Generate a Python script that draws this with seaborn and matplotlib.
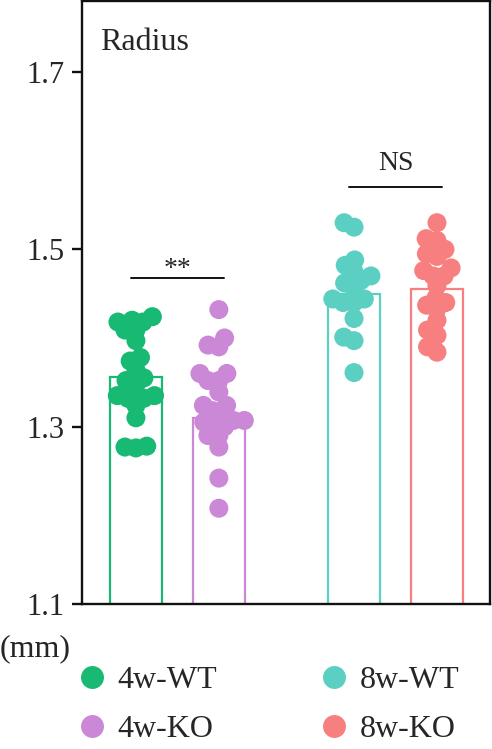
import matplotlib
matplotlib.use("Agg")
import matplotlib.pyplot as plt
import pandas as pd
import seaborn as sns
from matplotlib.lines import Line2D

groups = ["4w-WT", "4w-KO", "8w-WT", "8w-KO"]
colors = ["#18b973", "#cb88d7", "#5ccfc3", "#f77f7f"]

wt4 = [1.420, 1.418, 1.409, 1.397, 1.409, 1.418, 1.424, 1.378, 1.374, 1.364, 1.355,
       1.352, 1.347, 1.335, 1.335, 1.332, 1.332, 1.324, 1.310, 1.278, 1.276, 1.277]
ko4 = [1.432, 1.400, 1.390, 1.392, 1.360, 1.360, 1.352, 1.352, 1.339, 1.324, 1.324,
       1.318, 1.307, 1.307, 1.305, 1.305, 1.313, 1.300, 1.290, 1.290, 1.277, 1.242, 1.208]
wt8 = [1.525, 1.530, 1.482, 1.488, 1.470, 1.475, 1.462, 1.465, 1.456, 1.444, 1.444,
       1.440, 1.440, 1.422, 1.397, 1.401, 1.361]
ko8 = [1.530, 1.510, 1.512, 1.500, 1.492, 1.495, 1.476, 1.479, 1.470, 1.470, 1.459,
       1.440, 1.445, 1.433, 1.437, 1.420, 1.409, 1.403, 1.384, 1.390]
bar_means = [1.356, 1.310, 1.450, 1.455]

sig_labels = ["**", "NS"]
sig_heights = [1.468, 1.570]

# layout: bar centres on a numeric axis (gap between the age groups)
group_x = [0.0, 1.0, 2.63, 3.63]

points = pd.concat(
    [pd.DataFrame({"group": g, "x": x, "value": vals})
     for g, x, vals in zip(groups, group_x, [wt4, ko4, wt8, ko8])],
    ignore_index=True,
)
bars = pd.DataFrame({"group": groups, "x": group_x, "mean": bar_means})
palette = dict(zip(groups, colors))

sns.set_theme(style="ticks")
plt.rcParams["font.family"] = ["Liberation Serif", "DejaVu Serif"]

fig = plt.figure(figsize=(4.92, 7.49), dpi=100)
ax = fig.add_axes([0.1667, 0.1936, 0.8293, 0.8050])

sns.barplot(data=bars, x="x", y="mean", hue="group", palette=palette,
            native_scale=True, fill=False, linewidth=1.6, width=0.627,
            errorbar=None, legend=False, ax=ax)
sns.swarmplot(data=points, x="x", y="value", hue="group", palette=palette,
              native_scale=True, size=7.5, linewidth=0, legend=False, ax=ax, zorder=3)

ax.set_ylim(1.1, 1.78)
ax.set_xlim(-0.65, 4.27)
ax.set_yticks([1.1, 1.3, 1.5, 1.7])
ax.set_yticklabels(["1.1", "1.3", "1.5", "1.7"])
ax.set_xticks([])
ax.set_xlabel("")
ax.set_ylabel("")
for s in ax.spines.values():
    s.set_visible(True)
    s.set_linewidth(1.7)
    s.set_color("#111111")
ax.tick_params(axis="y", direction="out", length=7.5, width=1.7, labelsize=22,
               pad=5, color="#111111")

# significance brackets
for (i, j), lab, h, off in zip([(0, 1), (2, 3)], sig_labels, sig_heights, [-3, 8]):
    ax.plot([group_x[i] - 0.06, group_x[j] + 0.06], [h, h], color="#111111", lw=1.4)
    ax.annotate(lab, (0.5 * (group_x[i] + group_x[j]), h), xytext=(0, off),
                textcoords="offset points", ha="center", va="bottom", fontsize=20)

ax.text(0.045, 0.955, "Radius", transform=ax.transAxes, fontsize=23, va="top")
fig.text(0.0, 0.134, "(mm)", fontsize=23, va="center")

# swarm layout with smaller dots, then show them larger so they overlap
fig.canvas.draw()
for coll in ax.collections:
    if "draw" in coll.__dict__:
        del coll.draw
    coll.set_sizes([13.7 ** 2])

handles = [Line2D([], [], marker="o", ls="", color=c, markersize=15.5, label=g)
           for g, c in zip(groups, colors)]
fig.legend(handles=handles, ncol=2, loc="upper left", bbox_to_anchor=(0.122, 0.128),
           frameon=False, fontsize=23, handletextpad=0.2, columnspacing=3.05,
           labelspacing=0.62, handlelength=1.2, borderaxespad=0)

fig.savefig("out.png", dpi=100)
